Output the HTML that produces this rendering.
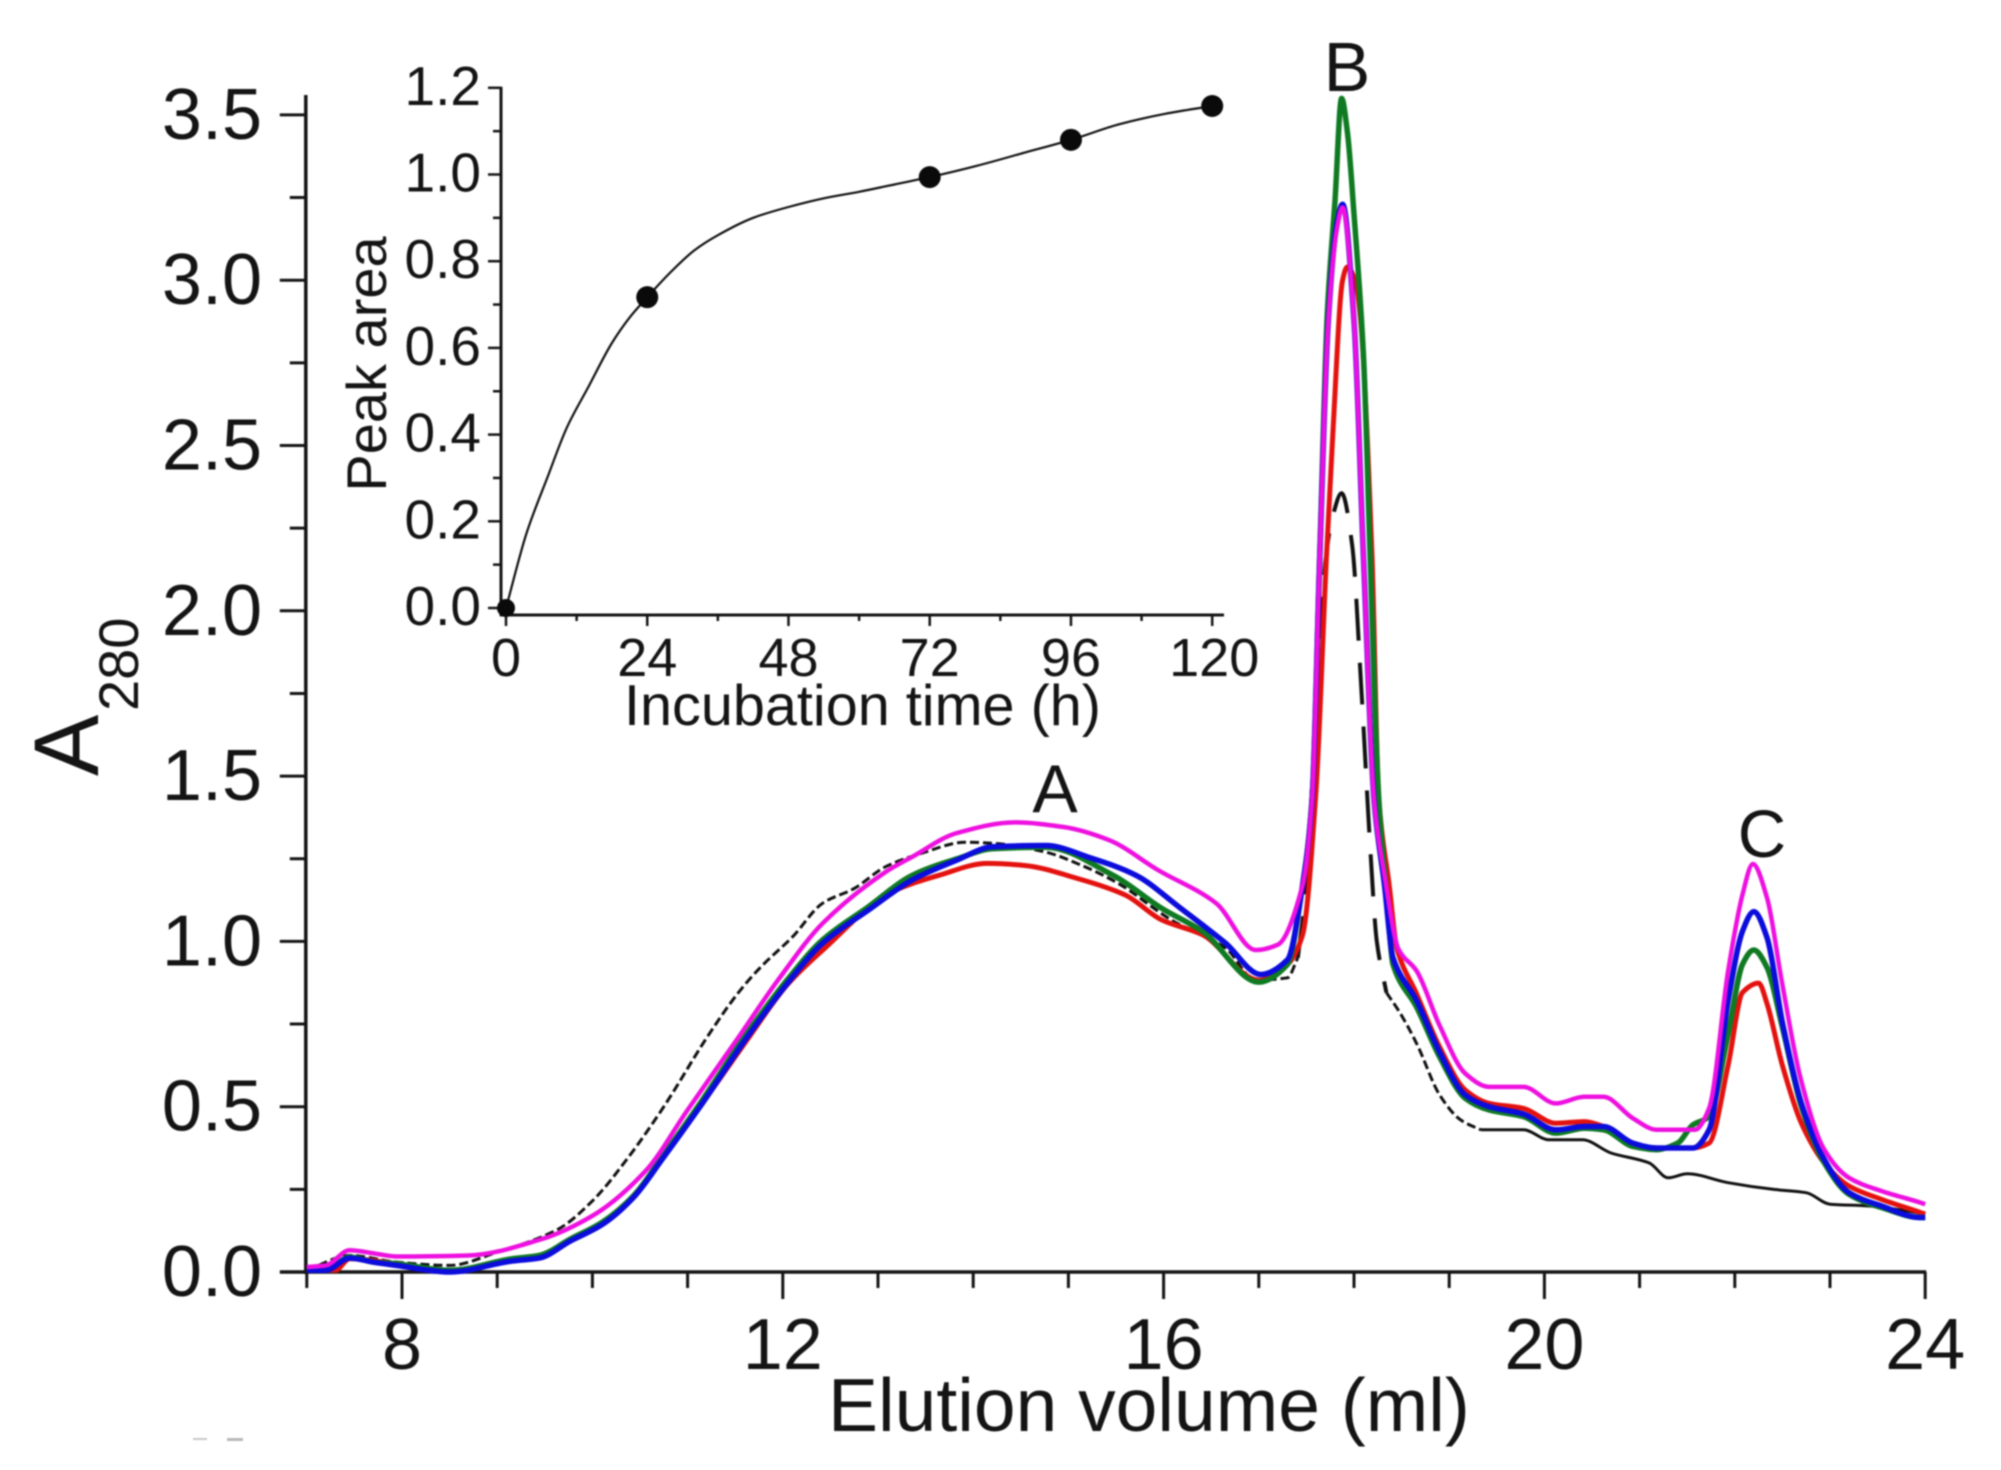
<!DOCTYPE html>
<html lang="en">
<head>
<meta charset="utf-8">
<title>Elution profile chart</title>
<style>
html,body{margin:0;padding:0;background:#fff;}
body{width:2001px;height:1470px;overflow:hidden;}
svg{display:block;font-family:"Liberation Sans",Arial,sans-serif;filter:blur(0.7px);}
text{fill:#141414;}
</style>
</head>
<body>
<svg id="chart" width="2001" height="1470" viewBox="0 0 2001 1470" xmlns="http://www.w3.org/2000/svg">
  <rect x="0" y="0" width="2001" height="1470" fill="#fff"/>
  <g id="main-plot"></g>
  <g id="inset-plot"></g>
  <text transform="translate(98,776) rotate(-90)" font-size="92">A</text>
  <text transform="translate(138,711) rotate(-90)" font-size="56">280</text>
  <text x="828" y="1431" font-size="75">Elution volume (ml)</text>
  <text x="1055" y="812" font-size="68" text-anchor="middle">A</text>
  <text x="1347" y="91" font-size="70" text-anchor="middle">B</text>
  <text x="1762" y="857" font-size="67" text-anchor="middle">C</text>
  <text transform="translate(386,364) rotate(-90)" font-size="56" text-anchor="middle">Peak area</text>
  <text x="624" y="725" font-size="57.6">Incubation time (h)</text>
  <rect x="193" y="1438" width="14" height="2" fill="#c8c8c8"/>
  <rect x="227" y="1438" width="16" height="3" fill="#b8b8b8"/>
</svg>
<script>
// Main chart tick data
const mainXTicks = [7,8,9,10,11,12,13,14,15,16,17,18,19,20,21,22,23,24];
const mainXLabels = [8,12,16,20,24];
const mainYTicks = [0,0.25,0.5,0.75,1,1.25,1.5,1.75,2,2.25,2.5,2.75,3,3.25,3.5];
const mainYLabels = ["0.0","0.5","1.0","1.5","2.0","2.5","3.0","3.5"];

// Black dashed trace
const blackVolume = [7,7.45,7.94,8.5,9,9.63,10,10.38,10.75,11.2,11.53,11.77,12.1,12.42,12.75,13.08,13.45,13.92,14.2,14.76,15.14,15.52,16.08,16.65,16.97,17.3,17.41,17.5,17.6,17.7,17.78,17.87,17.98,18.08,18.17,18.24,18.34,18.47,18.66,18.9,19.12,19.33,19.78,20.05,20.4,20.7,21.1,21.3,21.5,21.93,22.4,22.75,23,23.4,23.9,24];
const blackAbsorbance = [0.005,0.05,0.03,0.02,0.06,0.128,0.215,0.348,0.5,0.708,0.844,0.923,1.013,1.116,1.16,1.226,1.266,1.3,1.297,1.27,1.23,1.176,1.065,0.98,0.883,0.89,0.95,1.17,1.7,2.15,2.29,2.356,2.2,1.75,1.285,1,0.845,0.79,0.69,0.535,0.46,0.43,0.43,0.4,0.4,0.36,0.33,0.285,0.297,0.27,0.25,0.24,0.205,0.2,0.18,0.175];

// Red trace
const redVolume = [7,7.3,7.45,7.94,8.5,9.15,9.44,9.77,10.1,10.43,10.75,11.13,11.62,12.05,12.42,13.12,13.64,14.15,14.53,15.1,15.6,15.98,16.41,17,17.3,17.46,17.6,17.71,17.78,17.88,17.93,18.01,18.07,18.19,18.26,18.37,18.45,18.66,18.9,19.17,19.42,19.78,20.12,20.42,20.62,20.93,21.18,21.56,21.73,21.93,22.08,22.25,22.34,22.5,22.7,22.94,23.2,23.54,23.95,24];
const redAbsorbance = [0.005,0.005,0.04,0.025,0.005,0.035,0.05,0.095,0.145,0.225,0.35,0.5,0.7,0.87,0.974,1.146,1.2,1.236,1.23,1.19,1.14,1.065,1.02,0.883,0.93,1.02,1.45,2.16,2.55,3,3.04,3,2.876,2.16,1.43,1.17,0.98,0.84,0.68,0.55,0.51,0.495,0.45,0.455,0.44,0.39,0.375,0.375,0.39,0.625,0.845,0.874,0.81,0.625,0.45,0.33,0.26,0.22,0.18,0.175];

// Green trace
const greenVolume = [7,7.2,7.45,7.7,7.94,8.5,9.15,9.44,9.77,10.1,10.43,10.75,11.13,11.62,12.05,12.42,12.9,13.36,13.83,14.2,14.76,15.47,15.98,16.41,17,17.3,17.46,17.56,17.64,17.72,17.8,17.87,17.93,18,18.1,18.17,18.26,18.34,18.41,18.66,18.9,19.17,19.42,19.78,20.12,20.42,20.62,20.93,21.18,21.4,21.56,21.73,21.93,22.08,22.2,22.34,22.5,22.7,22.94,23.2,23.54,23.95,24];
const greenAbsorbance = [0.005,0.005,0.045,0.03,0.025,0.005,0.04,0.05,0.1,0.15,0.23,0.355,0.51,0.72,0.885,1.005,1.105,1.2,1.25,1.28,1.285,1.2,1.1,1.03,0.877,0.93,1.17,1.43,2.16,2.9,3.24,3.55,3.45,3.2,2.77,2.16,1.43,1.15,0.93,0.8,0.65,0.525,0.49,0.47,0.42,0.435,0.43,0.38,0.37,0.39,0.445,0.47,0.72,0.93,0.974,0.92,0.74,0.5,0.33,0.235,0.195,0.165,0.165];

// Blue trace
const blueVolume = [7,7.2,7.45,7.7,7.94,8.5,9.15,9.44,9.77,10.1,10.43,10.75,11.13,11.62,12.05,12.42,12.9,13.36,13.83,14.2,14.76,15.24,15.71,16.18,16.65,17.02,17.3,17.46,17.56,17.64,17.73,17.82,17.88,18,18.1,18.21,18.32,18.41,18.66,18.9,19.17,19.42,19.78,20.12,20.42,20.62,20.93,21.18,21.56,21.73,21.93,22.08,22.2,22.34,22.5,22.7,22.94,23.2,23.54,23.95,24];
const blueAbsorbance = [0.005,0.005,0.042,0.03,0.02,0,0.033,0.042,0.094,0.143,0.225,0.348,0.5,0.708,0.874,0.995,1.095,1.186,1.246,1.286,1.29,1.252,1.2,1.1,0.995,0.9,0.944,1.17,1.43,2.16,2.876,3.17,3.23,2.876,2.16,1.43,1.17,0.95,0.82,0.665,0.535,0.5,0.478,0.43,0.44,0.44,0.39,0.375,0.375,0.43,0.82,1.03,1.09,1.01,0.755,0.51,0.34,0.24,0.2,0.165,0.165];

// Magenta trace
const magentaVolume = [7,7.2,7.45,7.75,7.94,8.7,9.44,10,10.56,11,11.53,11.95,12.42,13.08,13.36,13.83,14.44,14.95,15.43,15.94,16.55,16.97,17.2,17.46,17.56,17.64,17.73,17.82,17.88,18,18.1,18.21,18.32,18.47,18.66,18.9,19.17,19.42,19.78,20.12,20.42,20.62,20.93,21.18,21.58,21.73,21.93,22.08,22.19,22.34,22.49,22.69,22.94,23.2,23.54,23.95,24];
const magentaAbsorbance = [0.015,0.02,0.066,0.054,0.047,0.05,0.097,0.17,0.306,0.49,0.708,0.883,1.055,1.21,1.256,1.328,1.36,1.346,1.306,1.216,1.116,0.974,0.99,1.17,1.43,2.16,2.876,3.155,3.22,2.876,2.16,1.43,1.2,0.975,0.91,0.745,0.6,0.56,0.56,0.51,0.53,0.53,0.465,0.43,0.43,0.495,0.91,1.14,1.234,1.13,0.886,0.587,0.37,0.285,0.245,0.21,0.205];

// Inset chart data
const insetTimeTicks = [0,12,24,36,48,60,72,84,96,108,120];
const insetTimeLabels = [0,24,48,72,96,120];
const insetAreaTicks = [0,0.1,0.2,0.3,0.4,0.5,0.6,0.7,0.8,0.9,1,1.1,1.2];
const insetAreaLabels = ["0.0","0.2","0.4","0.6","0.8","1.0","1.2"];
const pointTimes = [0,24,72,96,120];
const pointAreas = [0,0.717,0.994,1.08,1.158];
const fitTimes = [0,3.5,7,10.4,14,17.9,21,24,28,32,36,42,48,54,60,66,72,80,88,96,104,112,120];
const fitAreas = [0,0.173,0.3,0.418,0.51,0.609,0.67,0.717,0.775,0.825,0.86,0.9,0.925,0.945,0.96,0.977,0.994,1.02,1.05,1.08,1.115,1.14,1.158];

const NS = 'http://www.w3.org/2000/svg';
const mainGroup = document.getElementById('main-plot');
const insetGroup = document.getElementById('inset-plot');
const INK = '#141414';

function xMain(v){ return 402 + (v - 8) * 95.2; }
function yMain(v){ return 1272 - v * 330.6; }
function xInset(v){ return 506 + v * 5.885; }
function yInset(v){ return 608 - v * 433.5; }

function add(parent, tag){
  const el = document.createElementNS(NS, tag);
  parent.appendChild(el);
  return el;
}
function setLine(el, x1, y1, x2, y2, width){
  el.setAttribute('x1', x1);
  el.setAttribute('y1', y1);
  el.setAttribute('x2', x2);
  el.setAttribute('y2', y2);
  el.setAttribute('stroke', INK);
  el.setAttribute('stroke-width', width);
}
function setText(el, x, y, size, anchor, content){
  el.setAttribute('x', x);
  el.setAttribute('y', y);
  el.setAttribute('font-size', size);
  el.setAttribute('text-anchor', anchor);
  el.textContent = content;
}
// Monotone cubic path through (xs[i], ys[i]) already in pixels
function curvePath(xs, ys){
  const n = xs.length;
  if (n < 2) return '';
  const d = [];
  for (let i = 0; i < n - 1; i++) d.push((ys[i + 1] - ys[i]) / ((xs[i + 1] - xs[i]) || 1));
  const m = [d[0]];
  for (let i = 1; i < n - 1; i++) m.push(d[i - 1] * d[i] <= 0 ? 0 : 2 * d[i - 1] * d[i] / (d[i - 1] + d[i]));
  m.push(d[n - 2]);
  let out = 'M' + xs[0].toFixed(1) + ' ' + ys[0].toFixed(1);
  for (let i = 0; i < n - 1; i++) {
    const h = (xs[i + 1] - xs[i]) / 3;
    out += 'C' + (xs[i] + h).toFixed(1) + ' ' + (ys[i] + m[i] * h).toFixed(1) + ' ' +
      (xs[i + 1] - h).toFixed(1) + ' ' + (ys[i + 1] - m[i + 1] * h).toFixed(1) + ' ' +
      xs[i + 1].toFixed(1) + ' ' + ys[i + 1].toFixed(1);
  }
  return out;
}
function tracePath(volumes, values, from, to){
  const xs = [], ys = [];
  volumes.forEach(function(v, i){
    if (v >= from && v <= to) { xs.push(xMain(v)); ys.push(yMain(values[i])); }
  });
  return curvePath(xs, ys);
}

// Main axes
const mainYAxis = add(mainGroup, 'line');


setLine(mainYAxis, xMain(7) - 1, 95, xMain(7) - 1, yMain(0) + 2, 3.5);
const mainXAxis = add(mainGroup, 'line');


setLine(mainXAxis, 280, yMain(0), xMain(24) + 1, yMain(0), 3.5);

mainXTicks.forEach(function(v){
  const major = mainXLabels.indexOf(v) >= 0;
  const t = add(mainGroup, 'line');
  
  
  setLine(t, xMain(v), yMain(0), xMain(v), yMain(0) + (major ? 27 : 16), 3);
});
mainXLabels.forEach(function(v){
  const t = add(mainGroup, 'text');
  
  
  setText(t, xMain(v), 1369, 72, 'middle', String(v));
});
mainYTicks.forEach(function(v){
  const major = Math.abs(v * 2 - Math.round(v * 2)) < 1e-6;
  const t = add(mainGroup, 'line');
  
  
  setLine(t, xMain(7) - 1 - (major ? 26 : 16), yMain(v), xMain(7) - 1, yMain(v), 3);
});
mainYLabels.forEach(function(label){
  const t = add(mainGroup, 'text');
  
  
  setText(t, 262, yMain(parseFloat(label)) + 24, 72, 'end', label);
});

// Black control trace: dashed rise, long dashes at the peak, near-solid tail
const blackRise = add(mainGroup, 'path');


blackRise.setAttribute('d', tracePath(blackVolume, blackAbsorbance, 7, 17.41));
blackRise.setAttribute('fill', 'none');
blackRise.setAttribute('stroke', '#111');
blackRise.setAttribute('stroke-width', '3');
blackRise.setAttribute('stroke-dasharray', '9 4');
const blackPeak = add(mainGroup, 'path');


blackPeak.setAttribute('d', tracePath(blackVolume, blackAbsorbance, 17.41, 18.34));
blackPeak.setAttribute('fill', 'none');
blackPeak.setAttribute('stroke', '#111');
blackPeak.setAttribute('stroke-width', '4');
blackPeak.setAttribute('stroke-dasharray', '42 22');
const blackShoulder = add(mainGroup, 'path');


blackShoulder.setAttribute('d', tracePath(blackVolume, blackAbsorbance, 18.34, 19.33));
blackShoulder.setAttribute('fill', 'none');
blackShoulder.setAttribute('stroke', '#111');
blackShoulder.setAttribute('stroke-width', '3');
blackShoulder.setAttribute('stroke-dasharray', '9 4');
const blackTail = add(mainGroup, 'path');


blackTail.setAttribute('d', tracePath(blackVolume, blackAbsorbance, 19.33, 24));
blackTail.setAttribute('fill', 'none');
blackTail.setAttribute('stroke', '#111');
blackTail.setAttribute('stroke-width', '3');

// Coloured traces
const redLine = add(mainGroup, 'path');


redLine.setAttribute('d', tracePath(redVolume, redAbsorbance, 7, 24));
redLine.setAttribute('fill', 'none');
redLine.setAttribute('stroke', '#e4120f');
redLine.setAttribute('stroke-width', '5');
const greenLine = add(mainGroup, 'path');


greenLine.setAttribute('d', tracePath(greenVolume, greenAbsorbance, 7, 24));
greenLine.setAttribute('fill', 'none');
greenLine.setAttribute('stroke', '#0f7a22');
greenLine.setAttribute('stroke-width', '5.5');
const blueLine = add(mainGroup, 'path');


blueLine.setAttribute('d', tracePath(blueVolume, blueAbsorbance, 7, 24));
blueLine.setAttribute('fill', 'none');
blueLine.setAttribute('stroke', '#0c0cdc');
blueLine.setAttribute('stroke-width', '5.5');
const magentaLine = add(mainGroup, 'path');


magentaLine.setAttribute('d', tracePath(magentaVolume, magentaAbsorbance, 7, 24));
magentaLine.setAttribute('fill', 'none');
magentaLine.setAttribute('stroke', '#ee10e0');
magentaLine.setAttribute('stroke-width', '4.5');

// Inset axes
const insetYAxis = add(insetGroup, 'line');


setLine(insetYAxis, 501, yInset(1.2) - 1, 501, 616, 3);
const insetXAxis = add(insetGroup, 'line');


setLine(insetXAxis, 500, 615, 1224, 615, 3);

insetTimeTicks.forEach(function(v){
  const major = insetTimeLabels.indexOf(v) >= 0;
  const t = add(insetGroup, 'line');
  
  
  setLine(t, xInset(v), 615, xInset(v), major ? 626 : 621, 2.5);
});
insetTimeLabels.forEach(function(v){
  const t = add(insetGroup, 'text');
  
  
  setText(t, xInset(v) + (v === 120 ? 2 : 0), 676, 54, 'middle', String(v));
});
insetAreaTicks.forEach(function(v){
  const major = Math.abs(v * 5 - Math.round(v * 5)) < 1e-6;
  const t = add(insetGroup, 'line');
  
  
  setLine(t, major ? 488 : 493, yInset(v), 501, yInset(v), 2.5);
});
insetAreaLabels.forEach(function(label){
  const t = add(insetGroup, 'text');
  
  
  setText(t, 481, yInset(parseFloat(label)) + 17, 55, 'end', label);
});

const fitLine = add(insetGroup, 'path');


fitLine.setAttribute('d', curvePath(fitTimes.map(xInset), fitAreas.map(yInset)));
fitLine.setAttribute('fill', 'none');
fitLine.setAttribute('stroke', '#111');
fitLine.setAttribute('stroke-width', '2.2');

pointTimes.forEach(function(v, i){
  const c = add(insetGroup, 'circle');
  
  
  c.setAttribute('cx', xInset(v));
  c.setAttribute('cy', yInset(pointAreas[i]));
  c.setAttribute('r', i === 0 ? 9 : 11);
  c.setAttribute('fill', '#0a0a0a');
});
</script>
</body>
</html>
